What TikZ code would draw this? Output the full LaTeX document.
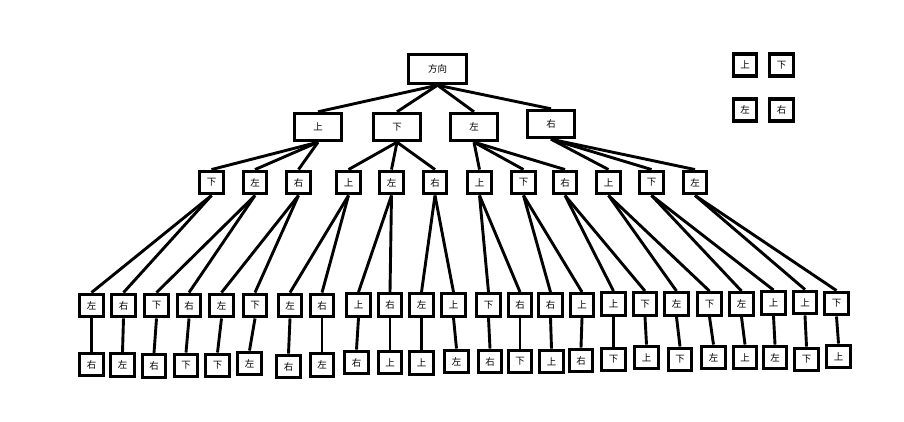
\documentclass[tikz,border=0pt]{standalone}
\usepackage{fontspec}
\newfontfamily\cjk{Noto Sans CJK SC}
\begin{document}
\begin{tikzpicture}[x=1pt,y=-1pt,
  box/.style={draw=black, line width=3.4pt, fill=white, inner sep=0pt,
    font=\cjk\fontsize{9.5}{10}\selectfont, text=black},
  sq/.style={box, minimum width=23.5pt, minimum height=22.5pt},
  lone/.style={box, minimum width=47pt, minimum height=27pt},
  rootbox/.style={box, minimum width=58pt, minimum height=29pt},
  link/.style={line width=2.9pt, draw=black}]
\useasboundingbox (0,0) rectangle (904,421);

% root
\node[rootbox] (r) at (437.5,69) {方向};

% level 1
\node[lone] (a1) at (318,127) {上};
\node[lone] (a2) at (397,127) {下};
\node[lone] (a3) at (474,127) {左};
\node[lone] (a4) at (551,124) {右};

% level 2
\foreach \i/\x/\t in {1/211.5/下,2/255/左,3/298.5/右,4/348.5/上,5/391.5/左,6/435/右,
  7/479.5/上,8/523.5/下,9/565/右,10/608.5/上,11/651.5/下,12/695/左}
  \node[sq] (b\i) at (\x,182.5) {\t};

% level 3
\foreach \i/\x/\y/\t in {1/91.5/305.5/左,2/123.5/305.5/右,3/156.5/305.5/下,4/189/305.5/右,
  5/221.5/305.5/左,6/255/305.5/下,7/290/305.5/左,8/322/305.5/右,
  9/358.5/305/上,10/390/305/右,11/421.5/305/左,12/453.5/305/上,
  13/488.5/305/下,14/520/305/右,15/550.5/305/右,16/582/305/上,
  17/613.5/304/上,18/645/304/下,19/676.5/304/左,20/709.5/304/下,
  21/741.5/304/左,22/773.5/303/上,23/805/302.5/上,24/836.5/303.5/下}
  \node[sq] (c\i) at (\x,\y) {\t};

% level 4
\foreach \i/\x/\y/\t in {1/91.5/364.5/右,2/122.5/365/左,3/154/366/右,4/186/365.5/下,
  5/217.5/365.5/下,6/249.5/363.5/左,7/288.5/366.5/右,8/322/365/左,
  9/356.5/362.5/右,10/390/362.5/上,11/421.5/363/上,12/456.5/361.5/左,
  13/490/361.5/右,14/520/361.5/下,15/551.5/361.5/上,16/581/360.5/右,
  17/613.5/359.5/下,18/646.5/357.5/上,19/680/359.5/下,20/713.5/357.5/左,
  21/745/357.5/上,22/775/357.5/左,23/806.5/359.5/下,24/838.5/356.5/上}
  \node[sq] (d\i) at (\x,\y) {\t};

% legend
\node[sq, minimum height=22pt] (g1) at (745,65) {上};
\node[sq, minimum height=22pt] (g2) at (781.5,65) {下};
\node[sq, minimum height=22pt] (g3) at (745,110) {左};
\node[sq, minimum height=22pt] (g4) at (781.5,110) {右};

% connectors
\foreach \k in {1,2,3,4}
  \draw[link] (r.south) -- (a\k.north);
\foreach \p/\a/\b/\c in {1/1/2/3, 2/4/5/6, 3/7/8/9, 4/10/11/12} {
  \draw[link] (a\p.south) -- (b\a.north);
  \draw[link] (a\p.south) -- (b\b.north);
  \draw[link] (a\p.south) -- (b\c.north);
}
\foreach \p in {1,...,12} {
  \pgfmathtruncatemacro{\ca}{2*\p-1}
  \pgfmathtruncatemacro{\cb}{2*\p}
  \draw[link] (b\p.south) -- (c\ca.north);
  \draw[link] (b\p.south) -- (c\cb.north);
}
\foreach \k in {1,...,24}
  \draw[link] (c\k.south) -- (d\k.north);
\end{tikzpicture}
\end{document}
